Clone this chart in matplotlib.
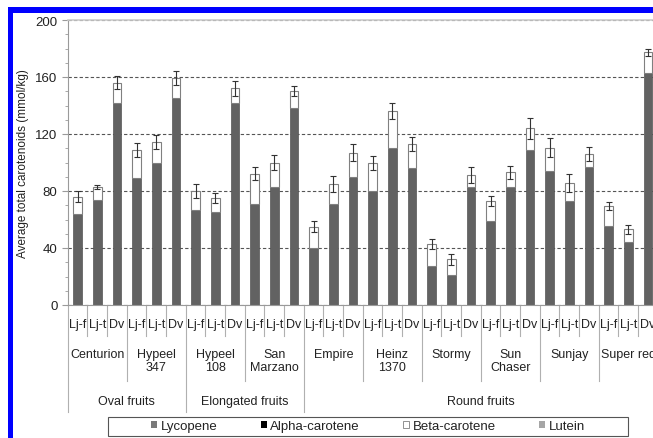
import numpy as np
import matplotlib.pyplot as plt
from matplotlib.patches import Rectangle, Patch
from matplotlib.ticker import MultipleLocator

plt.rcParams['font.family'] = ['Liberation Sans', 'DejaVu Sans']

# data (mmol/kg)
treatments = ['Lj-f', 'Lj-t', 'Dv']
cultivars = ['Centurion', 'Hypeel\n347', 'Hypeel\n108', 'San\nMarzano', 'Empire',
             'Heinz\n1370', 'Stormy', 'Sun\nChaser', 'Sunjay', 'Super red']
fruit_types = ['Oval fruits', 'Elongated fruits', 'Round fruits']
cultivars_per_type = [2, 2, 6]

lycopene = [64, 74, 142, 89, 100, 145, 67, 65.5, 142, 71, 83, 138,
            40, 71, 90, 80, 110.5, 96, 27.5, 21, 82.5, 59, 83, 109,
            94, 73, 97, 55.5, 44.5, 163]
alpha_carotene = [0] * 30
beta_carotene = [12, 9, 14, 20, 14.5, 14.5, 13, 9.5, 10, 21, 17, 12,
                 15, 14, 17, 19.5, 25.5, 17, 15, 11, 8.5, 14, 10, 15,
                 16.5, 12.5, 9, 14, 8.5, 14.5]
lutein = [0] * 30
total_err = [4, 1.5, 4.5, 5, 5, 5, 5, 3.5, 5, 4.5, 5.5, 3.5,
             4, 5.5, 6, 5, 5.5, 5, 3.5, 4, 5.5, 3.5, 4.5, 7.5,
             6.5, 6.5, 5, 3, 3, 2.5]

W, H = 653, 439
fig = plt.figure(figsize=(W / 100, H / 100), dpi=100)

# blue frame of the screenshot
fig.patches.append(Rectangle((8 / W, 0), 5 / W, 1 - 8 / H, transform=fig.transFigure,
                             color='#0000ff', lw=0))
fig.patches.append(Rectangle((8 / W, 1 - 13.5 / H), 1, 5.5 / H, transform=fig.transFigure,
                             color='#0000ff', lw=0))

ax = fig.add_axes([67.8 / W, 1 - 306 / H, 590 / W, 285 / H])

x = np.arange(len(lycopene))
lyc = np.array(lycopene)
alp = np.array(alpha_carotene)
bet = np.array(beta_carotene)
lut = np.array(lutein)
total = lyc + alp + bet + lut
w = 0.45

ax.bar(x, lyc, w, color='#626262', edgecolor='#555555', lw=0.5, zorder=2)
ax.bar(x, alp, w, bottom=lyc, color='black', lw=0, zorder=2)
ax.bar(x, bet, w, bottom=lyc + alp, color='white', edgecolor='#808080', lw=0.8, zorder=2)
ax.bar(x, lut, w, bottom=lyc + alp + bet, color='#a6a6a6', lw=0, zorder=2)
ax.errorbar(x, total, yerr=total_err, fmt='none', ecolor='#333333',
            elinewidth=0.8, capsize=2, capthick=0.8, zorder=3)

ax.set_xlim(-0.5, len(x) - 0.5)
ax.set_ylim(0, 200)
ax.yaxis.set_major_locator(MultipleLocator(40))
ax.yaxis.set_minor_locator(MultipleLocator(10))
for v in ax.get_yticks()[1:-1]:
    ax.axhline(v, color='#555555', ls=(0, (3, 2)), lw=0.8, zorder=1)

ax.tick_params(axis='y', which='major', direction='out', length=4, color='#9a9a9a',
               labelsize=9.5, labelcolor='#222222')
ax.tick_params(axis='y', which='minor', direction='out', length=2.5, color='#9a9a9a')
ax.set_xticks([])
for s in ['left', 'bottom']:
    ax.spines[s].set_color('#9a9a9a')
ax.spines['top'].set_color('#cccccc')
ax.spines['top'].set_linewidth(1.2)
ax.spines['right'].set_visible(False)

ax.set_ylabel('Average total carotenoids (mmol/kg)', fontsize=8.5, color='#222222')
ax.yaxis.set_label_coords(-0.066, 0.5)

# multi-level category axis
tr = ax.get_xaxis_transform()
sep_kw = dict(color='#b0b0b0', lw=0.8, transform=tr, clip_on=False)
n_t = len(treatments)
for i in range(len(x)):
    ax.text(i, -0.067, treatments[i % n_t], ha='center', va='center',
            fontsize=9, color='#222222', transform=tr)
for j, name in enumerate(cultivars):
    ax.text(j * n_t + (n_t - 1) / 2, -0.150, name, ha='center', va='top',
            fontsize=9, color='#222222', transform=tr, linespacing=1.1)

bounds = np.cumsum([0] + cultivars_per_type) * n_t
for i in range(len(x)):
    edge = i - 0.5
    if i in bounds:
        low = -0.375
    elif i % n_t == 0:
        low = -0.267
    else:
        low = -0.109
    ax.plot([edge, edge], [0, low], **sep_kw)
for k, name in enumerate(fruit_types):
    mid = (bounds[k] + bounds[k + 1] - 1) / 2
    ax.text(mid, -0.337, name, ha='center', va='center',
            fontsize=9, color='#222222', transform=tr)

# legend
fig.patches.append(Rectangle((108 / W, 1 - 437 / H), 520 / W, 19 / H,
                             transform=fig.transFigure, fill=False,
                             edgecolor='#555555', lw=0.8))
handles = [Patch(facecolor='#7a7a7a', edgecolor='none', label='Lycopene'),
           Patch(facecolor='black', edgecolor='none', label='Alpha-carotene'),
           Patch(facecolor='white', edgecolor='#808080', lw=0.6, label='Beta-carotene'),
           Patch(facecolor='#a6a6a6', edgecolor='none', label='Lutein')]
fig.legend(handles=handles, loc='center', bbox_to_anchor=(368 / W, 1 - 427.5 / H),
           ncol=4, frameon=False, fontsize=9.5, handlelength=0.45, handleheight=0.45,
           handletextpad=0.25, columnspacing=3.3, borderpad=0, labelcolor='#222222')

fig.savefig('out.png', dpi=100)
